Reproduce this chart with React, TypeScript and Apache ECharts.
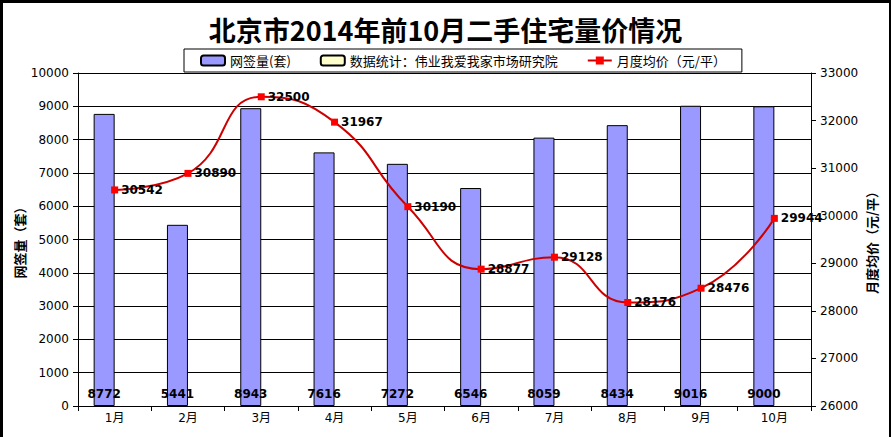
import React, { useEffect, useRef } from "react";
import * as echarts from "echarts";

const categories = ["1月", "2月", "3月", "4月", "5月", "6月", "7月", "8月", "9月", "10月"];
const salesVolume = [8772, 5441, 8943, 7616, 7272, 6546, 8059, 8434, 9016, 9000];
const avgPrice = [30542, 30890, 32500, 31967, 30190, 28877, 29128, 28176, 28476, 29944];
const sourceSeries: (number | null)[] = [null, null, null, null, null, null, null, null, null, null];

const titleText = "北京市2014年前10月二手住宅量价情况";
const volumeName = "网签量(套)";
const sourceName = "数据统计：伟业我爱我家市场研究院";
const priceName = "月度均价（元/平）";
const leftAxisName = "网签量（套）";
const rightAxisName = "月度均价（元/平）";

const numFont = "DejaVu Sans, Noto Sans CJK SC, sans-serif";
const cjkFont = "Noto Sans CJK SC, DejaVu Sans, sans-serif";

export default function App() {
  const ref = useRef<HTMLDivElement>(null);
  useEffect(() => {
    if (!ref.current) return;
    const chart = echarts.init(ref.current, undefined, { renderer: "svg" });
    chart.setOption({
      animation: false,
      backgroundColor: "#ffffff",
      title: {
        text: titleText,
        left: "center",
        top: 11,
        textStyle: { fontFamily: cjkFont, fontSize: 27, fontWeight: "bold", color: "#000" },
      },
      legend: {
        top: 49,
        left: 184,
        padding: [5, 16],
        borderColor: "#000",
        borderWidth: 1,
        itemWidth: 24,
        itemHeight: 10,
        itemGap: 29,
        textStyle: { fontFamily: cjkFont, fontSize: 13, color: "#000" },
        data: [volumeName, sourceName, priceName],
      },
      grid: { left: 78, right: 80, top: 73, bottom: 31, outerBoundsMode: "none", containLabel: false },
      xAxis: {
        type: "category",
        data: categories,
        axisLine: { lineStyle: { color: "#000", width: 1 } },
        axisTick: { show: true, length: 5, lineStyle: { color: "#000" } },
        axisLabel: { fontFamily: numFont, fontSize: 12, color: "#000", margin: 6 },
      },
      yAxis: [
        {
          type: "value",
          min: 0,
          max: 10000,
          interval: 1000,
          name: leftAxisName,
          nameLocation: "middle",
          nameRotate: 90,
          nameGap: 52,
          nameMoveOverlap: false,
          nameTextStyle: { fontFamily: cjkFont, fontSize: 13, fontWeight: "bold", color: "#000" },
          axisLine: { show: true, lineStyle: { color: "#000" } },
          axisTick: { show: true, length: 5, lineStyle: { color: "#000" } },
          axisLabel: { fontFamily: numFont, fontSize: 12, color: "#000", margin: 9, formatter: (v: number) => String(v) },
          splitLine: { show: true, lineStyle: { color: "#000", width: 1 } },
        },
        {
          type: "value",
          min: 26000,
          max: 33000,
          interval: 1000,
          name: rightAxisName,
          nameLocation: "middle",
          nameRotate: 90,
          nameGap: 54,
          nameMoveOverlap: false,
          nameTextStyle: { fontFamily: cjkFont, fontSize: 13, fontWeight: "bold", color: "#000" },
          axisLine: { show: true, lineStyle: { color: "#000" } },
          axisTick: { show: true, length: 5, lineStyle: { color: "#000" } },
          axisLabel: { fontFamily: numFont, fontSize: 12, color: "#000", margin: 9, formatter: (v: number) => String(v) },
          splitLine: { show: false },
        },
      ],
      series: [
        {
          name: volumeName,
          type: "bar",
          yAxisIndex: 0,
          data: salesVolume,
          barWidth: 21,
          barGap: "0%",
          itemStyle: { color: "#9999FF", borderColor: "#000", borderWidth: 1 },
          label: {
            show: true,
            position: "insideBottom",
            distance: 6,
            fontFamily: numFont,
            fontSize: 12,
            fontWeight: "bold",
            color: "#000",
          },
        },
        {
          name: sourceName,
          type: "bar",
          yAxisIndex: 0,
          data: sourceSeries,
          barWidth: 21,
          barGap: "0%",
          itemStyle: { color: "#FFFFCC", borderColor: "#000", borderWidth: 1 },
        },
        {
          name: priceName,
          type: "line",
          yAxisIndex: 1,
          data: avgPrice,
          smooth: 0.5,
          symbol: "rect",
          symbolSize: 7,
          lineStyle: { color: "#CC0000", width: 2 },
          itemStyle: { color: "#FF0000" },
          label: {
            show: true,
            position: "right",
            distance: 3,
            fontFamily: numFont,
            fontSize: 12,
            fontWeight: "bold",
            color: "#000",
            formatter: (p: any) => String(p.value),
          },
          z: 5,
        },
      ],
      graphic: [
        { type: "rect", left: 0, top: 0, shape: { width: 3, height: 437 }, style: { fill: "#000" } },
        { type: "rect", left: 0, top: 0, shape: { width: 891, height: 3 }, style: { fill: "#000" } },
        { type: "rect", right: 0, top: 0, shape: { width: 2, height: 437 }, style: { fill: "#000" } },
      ],
    });
    return () => chart.dispose();
  }, []);
  return (
    <div style={{ position: "fixed", left: 0, top: 0, width: 891, height: 437 }}>
      <div ref={ref} style={{ width: 891, height: 437 }} />
    </div>
  );
}
